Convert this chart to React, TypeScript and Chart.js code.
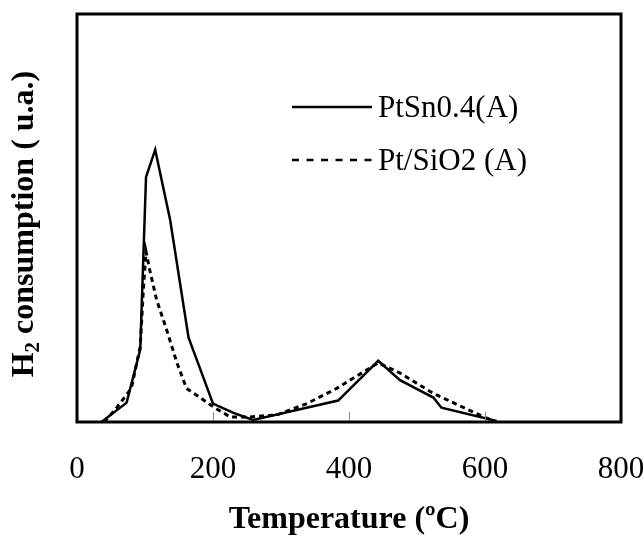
import React, { useEffect, useRef } from "react";
import { Chart, registerables } from "chart.js";

Chart.register(...registerables);

// Temperature (°C) and H2 consumption (arbitrary units)
const solidTemp = [36, 73, 93, 101.5, 115, 137, 164, 200, 230, 259, 384, 443, 475, 524, 536, 617];
const solidH2 = [0, 0.19, 0.71, 2.4, 2.67, 1.98, 0.83, 0.18, 0.09, 0.02, 0.21, 0.6, 0.41, 0.24, 0.14, 0.01];

const dashTemp = [40, 56, 80, 93, 97.5, 101.5, 107, 117, 132, 147, 161, 181, 200, 225, 254, 294, 338, 382, 443, 475, 524, 598, 617];
const dashH2 = [0, 0.12, 0.33, 0.74, 1.29, 1.67, 1.49, 1.2, 0.9, 0.58, 0.33, 0.24, 0.15, 0.05, 0.05, 0.07, 0.18, 0.33, 0.58, 0.48, 0.28, 0.05, 0];

const seriesLabels = ["PtSn0.4(A)", "Pt/SiO2 (A)"];
const xTicks = [0, 200, 400, 600, 800];
const innerTicks = [200, 400, 600];
const xTitle = "Temperature (ºC)";
const yTitleMain = "H";
const yTitleSub = "2";
const yTitleRest = " consumption ( u.a.)";

const SERIF = "'Liberation Serif', 'Times New Roman', serif";

const decorPlugin = {
  id: "decor",
  afterDatasetsDraw(chart: any) {
    const { ctx, chartArea } = chart;
    const xs = chart.scales.x;
    ctx.save();
    // inner tick marks
    ctx.strokeStyle = "#8a8a8a";
    ctx.lineWidth = 1;
    innerTicks.forEach((t) => {
      const px = Math.round(xs.getPixelForValue(t)) + 0.5;
      ctx.beginPath();
      ctx.moveTo(px, chartArea.bottom);
      ctx.lineTo(px, chartArea.bottom - 10);
      ctx.stroke();
    });
    // frame
    ctx.strokeStyle = "#000";
    ctx.lineWidth = 3;
    ctx.strokeRect(chartArea.left, chartArea.top, chartArea.right - chartArea.left, chartArea.bottom - chartArea.top);

    // x tick labels
    ctx.fillStyle = "#000";
    ctx.font = `31px ${SERIF}`;
    ctx.textAlign = "center";
    ctx.textBaseline = "alphabetic";
    xTicks.forEach((t) => {
      ctx.fillText(String(t), xs.getPixelForValue(t), chartArea.bottom + 56);
    });

    // legend
    const items = chart.data.datasets.map((d: any, i: number) => ({ label: d.label, dash: i === 1 }));
    const legY = [107, 160];
    items.forEach((it: any, i: number) => {
      ctx.beginPath();
      ctx.lineWidth = 2.5;
      ctx.setLineDash(it.dash ? [7, 7.5] : []);
      ctx.moveTo(292, legY[i]);
      ctx.lineTo(372, legY[i]);
      ctx.stroke();
      ctx.setLineDash([]);
      ctx.fillStyle = "#000";
      ctx.font = `31px ${SERIF}`;
      ctx.textAlign = "left";
      ctx.textBaseline = "alphabetic";
      ctx.fillText(it.label, 378, legY[i] + 10);
    });

    // y title with subscript
    const mainFont = `bold 32px ${SERIF}`;
    const subFont = `bold 21px ${SERIF}`;
    ctx.font = mainFont;
    const wH = ctx.measureText(yTitleMain).width;
    const wR = ctx.measureText(yTitleRest).width;
    ctx.font = subFont;
    const wS = ctx.measureText(yTitleSub).width;
    const total = wH + wS + wR;
    const cy = (chartArea.top + chartArea.bottom) / 2 + 6;
    ctx.translate(33, cy);
    ctx.rotate(-Math.PI / 2);
    ctx.textAlign = "left";
    ctx.textBaseline = "alphabetic";
    let x0 = -total / 2;
    ctx.font = mainFont;
    ctx.fillText(yTitleMain, x0, 0);
    x0 += wH;
    ctx.font = subFont;
    ctx.fillText(yTitleSub, x0, 6);
    x0 += wS;
    ctx.font = mainFont;
    ctx.fillText(yTitleRest, x0, 0);
    ctx.restore();
  },
};

export default function App() {
  const ref = useRef<HTMLCanvasElement>(null);
  useEffect(() => {
    document.body.style.margin = "0";
    const cv = ref.current;
    if (!cv) return;
    const chart = new Chart(cv, {
      type: "line",
      data: {
        datasets: [
          {
            label: seriesLabels[0],
            data: solidTemp.map((t, i) => ({ x: t, y: solidH2[i] })),
            borderColor: "#000",
            borderWidth: 2.5,
            pointRadius: 0,
            tension: 0,
            fill: false,
          },
          {
            label: seriesLabels[1],
            data: dashTemp.map((t, i) => ({ x: t, y: dashH2[i] })),
            borderColor: "#000",
            borderWidth: 3,
            borderDash: [5, 4],
            pointRadius: 0,
            tension: 0,
            fill: false,
          },
        ],
      },
      options: {
        animation: false,
        responsive: false,
        maintainAspectRatio: false,
        layout: { padding: { left: 77, right: 23, top: 14, bottom: 0 } },
        plugins: { legend: { display: false }, tooltip: { enabled: false } },
        scales: {
          x: {
            type: "linear",
            min: 0,
            max: 800,
            afterBuildTicks: (scale: any) => {
              scale.ticks = xTicks.map((v) => ({ value: v }));
            },
            afterFit: (scale: any) => {
              scale.height = 117;
              scale.paddingLeft = 0;
              scale.paddingRight = 0;
            },
            grid: { display: false, drawTicks: false },
            border: { display: false },
            ticks: { display: false },
            title: {
              display: true,
              text: xTitle,
              color: "#000",
              font: { family: SERIF, size: 32, weight: "bold" },
              padding: { top: 0, bottom: 0 },
            },
          },
          y: {
            display: false,
            min: 0,
            max: 4,
          },
        },
      },
      plugins: [decorPlugin],
    });
    return () => chart.destroy();
  }, []);
  return <canvas ref={ref} width={644} height={539} style={{ display: "block" }} />;
}
